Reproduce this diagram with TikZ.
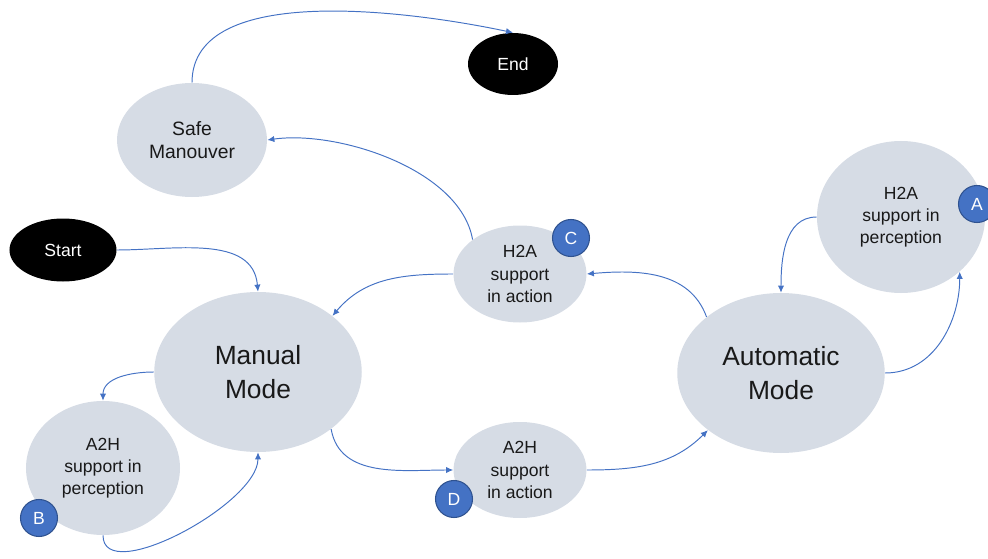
\documentclass[tikz,border=0pt]{standalone}
\usepackage{fontspec}
\setsansfont{Liberation Sans}
\usetikzlibrary{positioning,arrows.meta,shapes.geometric}
\definecolor{stateFill}{HTML}{D6DCE5}
\definecolor{flowLine}{HTML}{4472C4}
\definecolor{badgeFill}{HTML}{4472C4}
\definecolor{badgeBorder}{HTML}{2F528F}

\begin{document}
\begin{tikzpicture}[
    state/.style={
        ellipse, fill=stateFill, inner sep=0pt,
        align=center, text=black!90,
        font=\sffamily\fontsize{10}{12.6}\selectfont
    },
    mode/.style={
        state, minimum width=4.15cm, minimum height=3.2cm,
        font=\sffamily\fontsize{15}{19}\selectfont
    },
    terminal/.style={
        ellipse, fill=black, text=white, inner sep=0pt,
        font=\sffamily\fontsize{10}{12}\selectfont
    },
    badge/.style={
        circle, fill=badgeFill, draw=badgeBorder, line width=0.6pt,
        minimum size=0.74cm, inner sep=0pt, text=white,
        font=\sffamily\fontsize{10}{12}\selectfont
    },
    arrow/.style={-{Latex[length=4pt,width=3.6pt]}, line width=0.55pt, draw=flowLine}
]
  \useasboundingbox (0,0) rectangle (19.76,11.16);

  % Nodes
  \node[terminal, minimum width=2.14cm, minimum height=1.26cm] (start) at (1.26,6.16) {Start};
  \node[terminal, minimum width=1.80cm, minimum height=1.24cm] (end) at (10.26,9.88) {End};

  \node[state, minimum width=3.0cm, minimum height=2.28cm, font=\sffamily\fontsize{11}{13}\selectfont] (safe) at (3.84,8.36) {Safe\\Manouver};

  \node[mode] (manual) at (5.16,3.72) {Manual\\Mode};
  \node[mode] (auto) at (15.62,3.70) {Automatic\\Mode};

  \node[state, minimum width=3.08cm, minimum height=2.68cm] (a2hPerc) at (2.06,1.80) {A2H\\support in\\perception};
  \node[state, minimum width=2.66cm, minimum height=1.94cm] (h2aAct) at (10.40,5.68) {H2A\\support\\in action};
  \node[state, minimum width=2.66cm, minimum height=1.92cm] (a2hAct) at (10.40,1.76) {A2H\\support\\in action};
  \node[state, minimum width=3.36cm, minimum height=3.04cm] (h2aPerc) at (18.02,6.82) {H2A\\support in\\perception};

  % Badges
  \node[badge] (badgeA) at (19.54,7.08) {A};
  \node[badge] (badgeB) at (0.78,0.80) {B};
  \node[badge] (badgeC) at (11.42,6.40) {C};
  \node[badge] (badgeD) at (9.08,1.18) {D};

  % Manual side
  \draw[arrow] (start.east) to[out=0,in=95] (manual.north);
  \draw[arrow] (manual.180) to[out=180,in=90] (a2hPerc.north);
  \draw[arrow] (a2hPerc.south) to[out=-90,in=-90,looseness=0.75] (manual.south);
  \draw[arrow] (manual.-38) to[out=-80,in=180] (a2hAct.west);

  % Automatic side
  \draw[arrow] (a2hAct.east) to[out=0,in=225] (auto.218);
  \draw[arrow] (auto.143) to[out=110,in=5] (h2aAct.east);
  \draw[arrow] (h2aAct.west) to[out=180,in=50] (manual.37);
  \draw[arrow] (auto.east) to[out=0,in=-90] (h2aPerc.-43);
  \draw[arrow] (h2aPerc.west) to[out=180,in=90] (auto.north);

  % Way out
  \draw[arrow] (h2aAct.144) to[out=100,in=8,looseness=0.8] (safe.east);
  \draw[arrow] (safe.north) to[out=90,in=168,looseness=0.8] (end.north);

\end{tikzpicture}
\end{document}
